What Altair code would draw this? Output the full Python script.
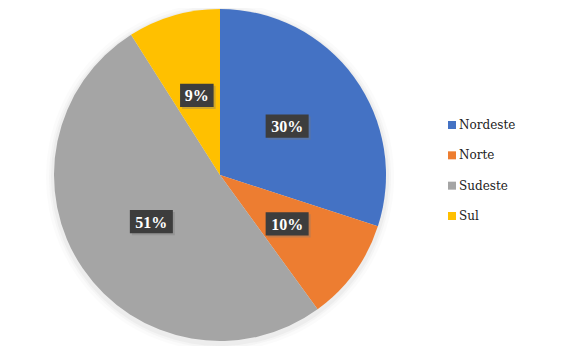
import altair as alt
import pandas as pd

regions = ["Nordeste", "Norte", "Sudeste", "Sul"]
shares = [30, 10, 51, 9]
labels = ["30%", "10%", "51%", "9%"]
colors = ["#4472C4", "#ED7D31", "#A5A5A5", "#FFC000"]

df = pd.DataFrame({
    "region": regions,
    "value": shares,
    "label": labels,
    "order": list(range(len(regions))),
})

CX, CY, R = 212, 167, 166
W, H = 567, 338
SERIF = "Liberation Serif, Times New Roman, Times, serif"
LEG_SERIF = "DejaVu Serif"

color_scale = alt.Scale(domain=regions, range=colors)

shadow_layers = []
for rr, op in [(174, 0.03), (171, 0.05), (169, 0.07)]:
    shadow_layers.append(
        alt.Chart(df).mark_arc(outerRadius=rr, color="#888888", opacity=op).encode(
            theta=alt.Theta("value:Q", stack=True),
            order=alt.Order("order:Q"),
            x=alt.value(CX), y=alt.value(CY + 2),
        )
    )

pie = alt.Chart(df).mark_arc(outerRadius=R).encode(
    theta=alt.Theta("value:Q", stack=True),
    order=alt.Order("order:Q"),
    color=alt.Color("region:N", scale=color_scale, legend=None),
    x=alt.value(CX), y=alt.value(CY),
)

base = alt.Chart(df).transform_window(
    cum="sum(value)", sort=[alt.SortField("order")], frame=[None, 0]
).transform_joinaggregate(
    total="sum(value)"
).transform_calculate(
    mid="(datum.cum - datum.value/2) / datum.total * 2 * PI",
    px="0.5 * sin(datum.mid)",
    py="0.5 * cos(datum.mid)",
)

xenc = alt.X("px:Q", scale=alt.Scale(domain=[-1, 1], range=[CX - R, CX + R]), axis=None)
yenc = alt.Y("py:Q", scale=alt.Scale(domain=[-1, 1], range=[CY + R, CY - R]), axis=None)

wide = "M-1,-0.54H1V0.54H-1Z"
narrow = "M-0.78,-0.54H0.78V0.54H-0.78Z"
shape_enc = alt.Shape(
    "label:N",
    scale=alt.Scale(domain=labels, range=[wide if len(l) > 2 else narrow for l in labels]),
    legend=None,
)

box_shadow = base.mark_point(filled=True, opacity=0.35, color="#777777", size=1849,
                             xOffset=2, yOffset=2).encode(x=xenc, y=yenc, shape=shape_enc)
box = base.mark_point(filled=True, opacity=1, color="#3D3D3D", size=1849).encode(
    x=xenc, y=yenc, shape=shape_enc)
text = base.mark_text(font=SERIF, fontWeight="bold", fontSize=16,
                      color="white", align="center", baseline="middle", dy=1).encode(
    x=xenc, y=yenc, text="label:N")

labels_layer = alt.layer(box_shadow, box, text)

# manual legend
leg_y = alt.Y("region:N", scale=alt.Scale(type="point", domain=regions, range=[117, 208], padding=0),
              axis=None)
leg_sym = alt.Chart(df).mark_point(shape="square", filled=True, opacity=1, size=64).encode(
    x=alt.value(444), y=leg_y,
    color=alt.Color("region:N", scale=color_scale, legend=None),
)
leg_txt = alt.Chart(df).mark_text(font=LEG_SERIF, fontSize=12, color="#222222",
                                  align="left", baseline="middle", dy=0).encode(
    x=alt.value(451), y=leg_y, text="region:N",
)
legend_layer = alt.layer(leg_sym, leg_txt)

chart = alt.layer(*shadow_layers, pie, labels_layer, legend_layer).resolve_scale(
    x="independent", y="independent"
).properties(
    width=W, height=H, autosize=alt.AutoSizeParams(type="none"), padding=0
).configure_view(stroke=None)

chart.save("out.html", embed_options={"renderer": "svg", "actions": False})
